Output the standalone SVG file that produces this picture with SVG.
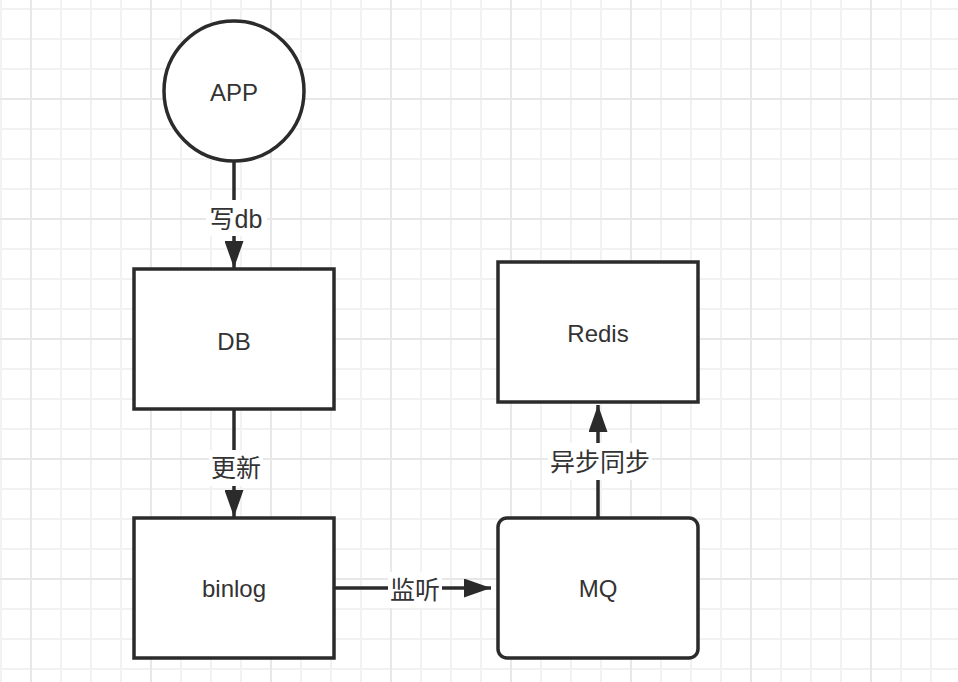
<svg xmlns="http://www.w3.org/2000/svg" width="958" height="682" viewBox="0 0 958 682">
<style>
.shape{fill:#ffffff;stroke:#2b2b2b;stroke-width:3.5}
.edge{fill:none;stroke:#2b2b2b;stroke-width:3.5}
.txt{font-family:"Liberation Sans","Noto Sans CJK SC",Arial,sans-serif;font-size:24px;fill:#333333;text-anchor:middle}
.lbl{font-family:"Liberation Sans","Noto Sans CJK SC",Arial,sans-serif;font-size:25px;fill:#333333;text-anchor:middle}
.lblbg{fill:#ffffff;stroke:none}
</style>
<defs>
<pattern id="minor" patternUnits="userSpaceOnUse" x="-14" y="-6" width="30" height="30">
<path d="M15 0V30M0 15H30" stroke="#f2f2f2" stroke-width="2" fill="none"/>
</pattern>
<pattern id="major" patternUnits="userSpaceOnUse" x="-29" y="39" width="120" height="120">
<path d="M60 0V120M0 60H120" stroke="#e8e8e8" stroke-width="2" fill="none"/>
</pattern>
<marker id="arrow" viewBox="0 0 27 19" refX="27" refY="9.5" markerWidth="27" markerHeight="19" markerUnits="userSpaceOnUse" orient="auto">
<path d="M0 0L27 9.5L0 19Z" fill="#2b2b2b"/>
</marker>
</defs>
<rect width="958" height="682" fill="#ffffff"/>
<rect width="958" height="682" fill="url(#minor)"/>
<rect width="958" height="682" fill="url(#major)"/>

<g id="connectors">
<g id="e-app-db">
<path class="edge" d="M234 160V268" marker-end="url(#arrow)"/>
<rect class="lblbg" x="206" y="200" width="61" height="36"/>
<text class="lbl" x="236" y="228">写db</text>
</g>
<g id="e-db-binlog">
<path class="edge" d="M234 409V517" marker-end="url(#arrow)"/>
<rect class="lblbg" x="209" y="450" width="54" height="36"/>
<text class="lbl" x="236" y="477">更新</text>
</g>
<g id="e-binlog-mq">
<path class="edge" d="M334 588H491" marker-end="url(#arrow)"/>
<rect class="lblbg" x="388" y="572" width="54" height="36"/>
<text class="lbl" x="415" y="599">监听</text>
</g>
<g id="e-mq-redis">
<path class="edge" d="M598 518V405" marker-end="url(#arrow)"/>
<rect class="lblbg" x="548" y="443" width="104" height="37"/>
<text class="lbl" x="600" y="471">异步同步</text>
</g>
</g>

<g id="app">
<circle class="shape" cx="234" cy="91" r="70"/>
<text class="txt" x="234" y="101">APP</text>
</g>
<g id="db">
<rect class="shape" x="134" y="269" width="200" height="140"/>
<text class="txt" x="234" y="350">DB</text>
</g>
<g id="binlog">
<rect class="shape" x="134" y="518" width="200" height="140"/>
<text class="txt" x="234" y="597">binlog</text>
</g>
<g id="mq">
<rect class="shape" x="498" y="518" width="200" height="140" rx="9" ry="9"/>
<text class="txt" x="598" y="597">MQ</text>
</g>
<g id="redis">
<rect class="shape" x="498" y="262" width="200" height="140"/>
<text class="txt" x="598" y="342">Redis</text>
</g>
</svg>
